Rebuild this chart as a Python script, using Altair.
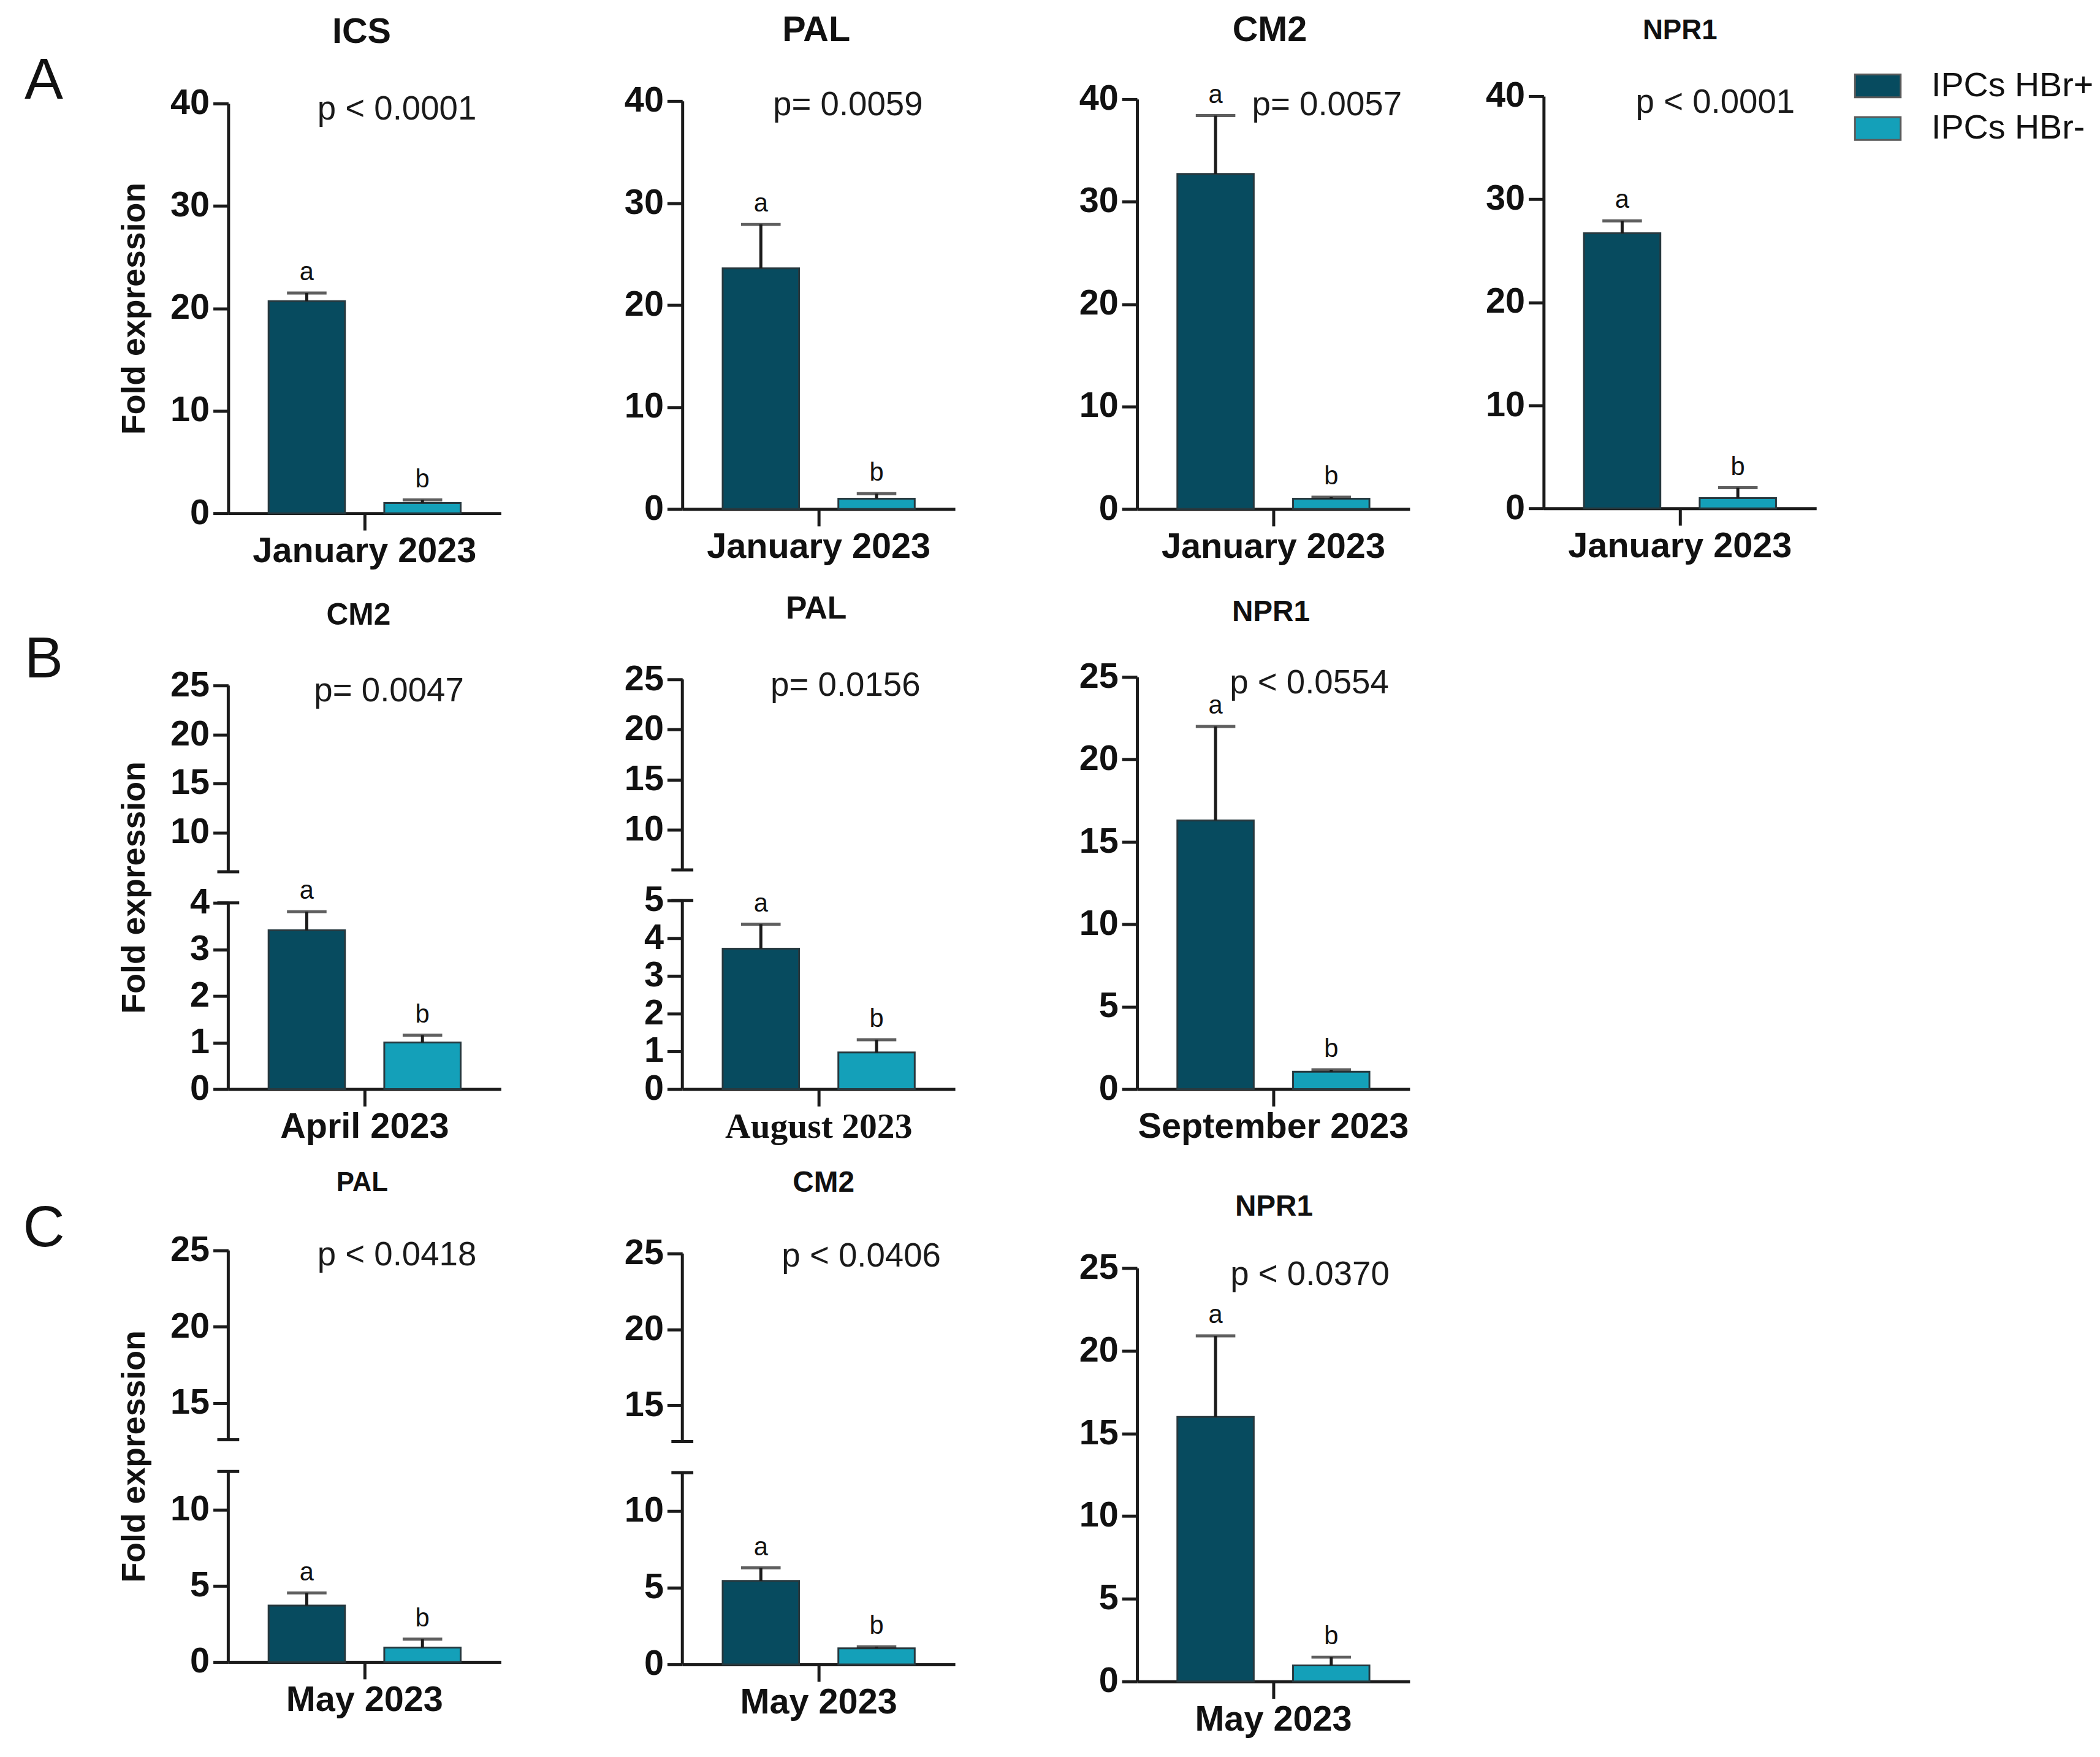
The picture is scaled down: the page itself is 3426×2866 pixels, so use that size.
import altair as alt
import pandas as pd

# ---- data: one entry per panel (row A: 4 panels, row B: 3, row C: 3) ----
genes = ["ICS", "PAL", "CM2", "NPR1", "CM2", "PAL", "NPR1", "PAL", "CM2", "NPR1"]
months = ["January 2023", "January 2023", "January 2023", "January 2023",
          "April 2023", "August 2023", "September 2023",
          "May 2023", "May 2023", "May 2023"]
p_values = ["p < 0.0001", "p= 0.0059", "p= 0.0057", "p < 0.0001",
            "p= 0.0047", "p= 0.0156", "p < 0.0554",
            "p < 0.0418", "p < 0.0406", "p < 0.0370"]
groups = ["IPCs HBr+", "IPCs HBr-"]
hbr_pos_mean = [20.7, 23.6, 32.7, 26.7, 3.41, 3.72, 16.3, 3.70, 5.44, 16.0]
hbr_pos_sd = [0.8, 4.3, 5.7, 1.2, 0.40, 0.65, 5.7, 0.83, 0.85, 4.9]
hbr_neg_mean = [1.0, 1.0, 1.0, 1.0, 1.0, 0.97, 1.05, 0.95, 1.05, 0.97]
hbr_neg_sd = [0.3, 0.5, 0.15, 1.0, 0.16, 0.34, 0.12, 0.55, 0.10, 0.5]
sig_pos = ["a"] * 10
sig_neg = ["b"] * 10
y_max = [40, 40, 40, 40, 25, 25, 25, 25, 25, 25]
tick_values = [
    [0, 10, 20, 30, 40], [0, 10, 20, 30, 40], [0, 10, 20, 30, 40], [0, 10, 20, 30, 40],
    [0, 1, 2, 3, 4, 10, 15, 20, 25], [0, 1, 2, 3, 4, 5, 10, 15, 20, 25], [0, 5, 10, 15, 20, 25],
    [0, 5, 10, 15, 20, 25], [0, 5, 10, 15, 20, 25], [0, 5, 10, 15, 20, 25],
]
# broken y axes: (top of lower segment, bottom of upper segment)
axis_breaks = [None, None, None, None, (4, 6), (5, 6), None, (12.5, 12.6), (12.5, 12.6), None]
row_letters = {0: "A", 4: "B", 7: "C"}

# ---- layout / style ----
FONT = "Liberation Sans"
AX = "#1b1b1b"
DARK, LIGHT = "#074b5f", "#14a0b9"
BAR_STROKE = "#27393f"
W = 448
rows = [[0, 1, 2, 3], [4, 5, 6], [7, 8, 9]]
# page positions (px) of each plot's top and bottom, and of the axis break ends
plot_top = [164, 160, 157, 152, 1114, 1104, 1100, 2038, 2043, 2067]
plot_bottom = [837, 830, 830, 829, 1777, 1777, 1777, 2714, 2718, 2746]
break_px = [None, None, None, None, (1471, 1420), (1467, 1417), None,
            (2401, 2349), (2403, 2352), None]
# gene titles: page y of their centre, x relative to the plot's left edge
title_y = [47, 44, 44, 44, 999, 988, 994, 1928, 1928, 1967]
title_x = [219, 220, 218, 224, 214, 220, 220, 220, 232, 225]
title_size = [58, 58, 58, 46, 50, 52, 48, 44, 48, 48]
y_extent = [100, 198, 199, 120, 100, 198, 199, 100, 198, 199]
p_x = [277, 272, 312, 282, 264, 268, 283, 277, 294, 284]
p_y = [9, 6, 9, 10, 9, 10, 10, 7, 4, 11]
letter_y = {0: 127, 4: 1072, 7: 2002}
first_col = {0, 4, 7}


def panel(i, row_top):
    Hg = plot_bottom[i] - row_top
    t = plot_top[i] - row_top
    df = pd.DataFrame({
        "month": [months[i]] * 2,
        "group": groups,
        "mean": [hbr_pos_mean[i], hbr_neg_mean[i]],
        "upper": [hbr_pos_mean[i] + hbr_pos_sd[i], hbr_neg_mean[i] + hbr_neg_sd[i]],
        "sig": [sig_pos[i], sig_neg[i]],
    })
    label_font = "Liberation Serif" if months[i].startswith("August") else FONT

    x_enc = alt.X("month:N", title=None,
                  scale=alt.Scale(paddingOuter=0.21, paddingInner=0),
                  axis=alt.Axis(labelAngle=0, tickSize=28, labelPadding=6, labelFontSize=58,
                                labelFont=label_font, labelFontWeight="bold", labelLimit=800,
                                domainWidth=5, tickWidth=5, minExtent=94, maxExtent=94))
    xo_enc = alt.XOffset("group:N", sort=groups,
                         scale=alt.Scale(paddingInner=0.34, paddingOuter=0))

    brk = axis_breaks[i]
    if brk:
        lo, hi = brk
        plo, phi = break_px[i]
        yscale = alt.Scale(domain=[0, lo, hi, y_max[i]],
                           range=[Hg, plo - row_top, phi - row_top, t],
                           nice=False, zero=False)
    else:
        yscale = alt.Scale(domain=[0, y_max[i]], range=[Hg, t], nice=False, zero=False)

    axis_kw = dict(values=tick_values[i], tickSize=25, labelPadding=6, labelFontSize=58,
                   labelFontWeight="bold", labelFont=FONT, labelOverlap=False,
                   domain=not brk, domainWidth=5, tickWidth=5,
                   minExtent=y_extent[i], maxExtent=y_extent[i])
    if i in first_col:
        axis_kw.update(title="Fold expression", titleFontSize=54, titleFont=FONT,
                       titleFontWeight="bold", titlePadding=27)
    else:
        axis_kw.update(title=None)
    y_axis = alt.Axis(**axis_kw)

    def Y(field):
        return alt.Y(field, scale=yscale, axis=y_axis)

    if i == 3:
        legend = alt.Legend(title=None, orient="none", legendX=521, legendY=-45 + t,
                            symbolType="M-2,-1L2,-1L2,1L-2,1Z", symbolSize=1406,
                            symbolStrokeColor="#5a5a5a", symbolStrokeWidth=3,
                            symbolOpacity=1, labelFontSize=56, labelFont=FONT,
                            labelLimit=800, labelColor="#111", labelOffset=60,
                            rowPadding=14, padding=0)
    else:
        legend = None

    base = alt.Chart(df)
    bars = base.mark_bar(stroke=BAR_STROKE, strokeWidth=3).encode(
        x=x_enc, xOffset=xo_enc, y=Y("mean:Q"),
        color=alt.Color("group:N", scale=alt.Scale(domain=groups, range=[DARK, LIGHT]),
                        legend=legend),
    )
    err = base.mark_rule(color=AX, strokeWidth=5).encode(
        x=x_enc, xOffset=xo_enc, y=Y("mean:Q"), y2="upper:Q")
    cap = base.mark_tick(color=AX, thickness=5, size=65, orient="horizontal").encode(
        x=x_enc, xOffset=xo_enc, y=Y("upper:Q"))
    sig = base.mark_text(fontSize=42, font=FONT, dy=-34, color="#111").encode(
        x=x_enc, xOffset=xo_enc, y=Y("upper:Q"), text="sig:N")
    ptext = alt.Chart(pd.DataFrame({"p": [p_values[i]]})).mark_text(
        fontSize=55, font=FONT, align="center", baseline="middle", color="#1a1a1a"
    ).encode(x=alt.value(p_x[i]), y=alt.value(t + p_y[i]), text="p:N")
    title = alt.Chart(pd.DataFrame({"g": [genes[i]]})).mark_text(
        fontSize=title_size[i], font=FONT, fontWeight="bold", align="center",
        baseline="middle", color="#111"
    ).encode(x=alt.value(title_x[i]), y=alt.value(title_y[i] - row_top), text="g:N")

    layers = [bars, err, cap, sig, ptext, title]

    if brk:
        lo, hi = brk
        segs = alt.Chart(pd.DataFrame({"lo": [0, hi], "hi": [lo, y_max[i]]})).mark_rule(
            color=AX, strokeWidth=5).encode(x=alt.value(0), y=Y("lo:Q"), y2="hi:Q")
        ends = alt.Chart(pd.DataFrame({"v": [lo, hi]})).mark_rule(
            color=AX, strokeWidth=5).encode(x=alt.value(-18), x2=alt.value(18), y=Y("v:Q"))
        layers += [segs, ends]

    if i in row_letters:
        letter = alt.Chart(pd.DataFrame({"t": [row_letters[i]]})).mark_text(
            fontSize=95, font=FONT, align="center", baseline="middle", color="#111"
        ).encode(x=alt.value(-303), y=alt.value(letter_y[i] - row_top), text="t:N")
        layers.append(letter)

    return alt.layer(*layers).properties(width=W, height=Hg)


row_charts = []
for r in rows:
    top = min(plot_top[i] for i in r)
    cells = [panel(i, top) for i in r]
    row_charts.append(
        alt.hconcat(*cells, spacing=100)
        .resolve_scale(color="independent")
        .resolve_legend(color="independent")
    )

chart = alt.vconcat(*row_charts, spacing=37)
chart = chart.resolve_scale(color="independent").resolve_legend(color="independent")
chart = chart.configure_view(stroke=None).configure_axis(
    grid=False, domainColor=AX, tickColor=AX, labelColor="#111", titleColor="#111"
).properties(padding={"left": 37, "top": 11, "right": 10, "bottom": 10})

chart.save("out.html", embed_options={"renderer": "svg", "actions": False})
